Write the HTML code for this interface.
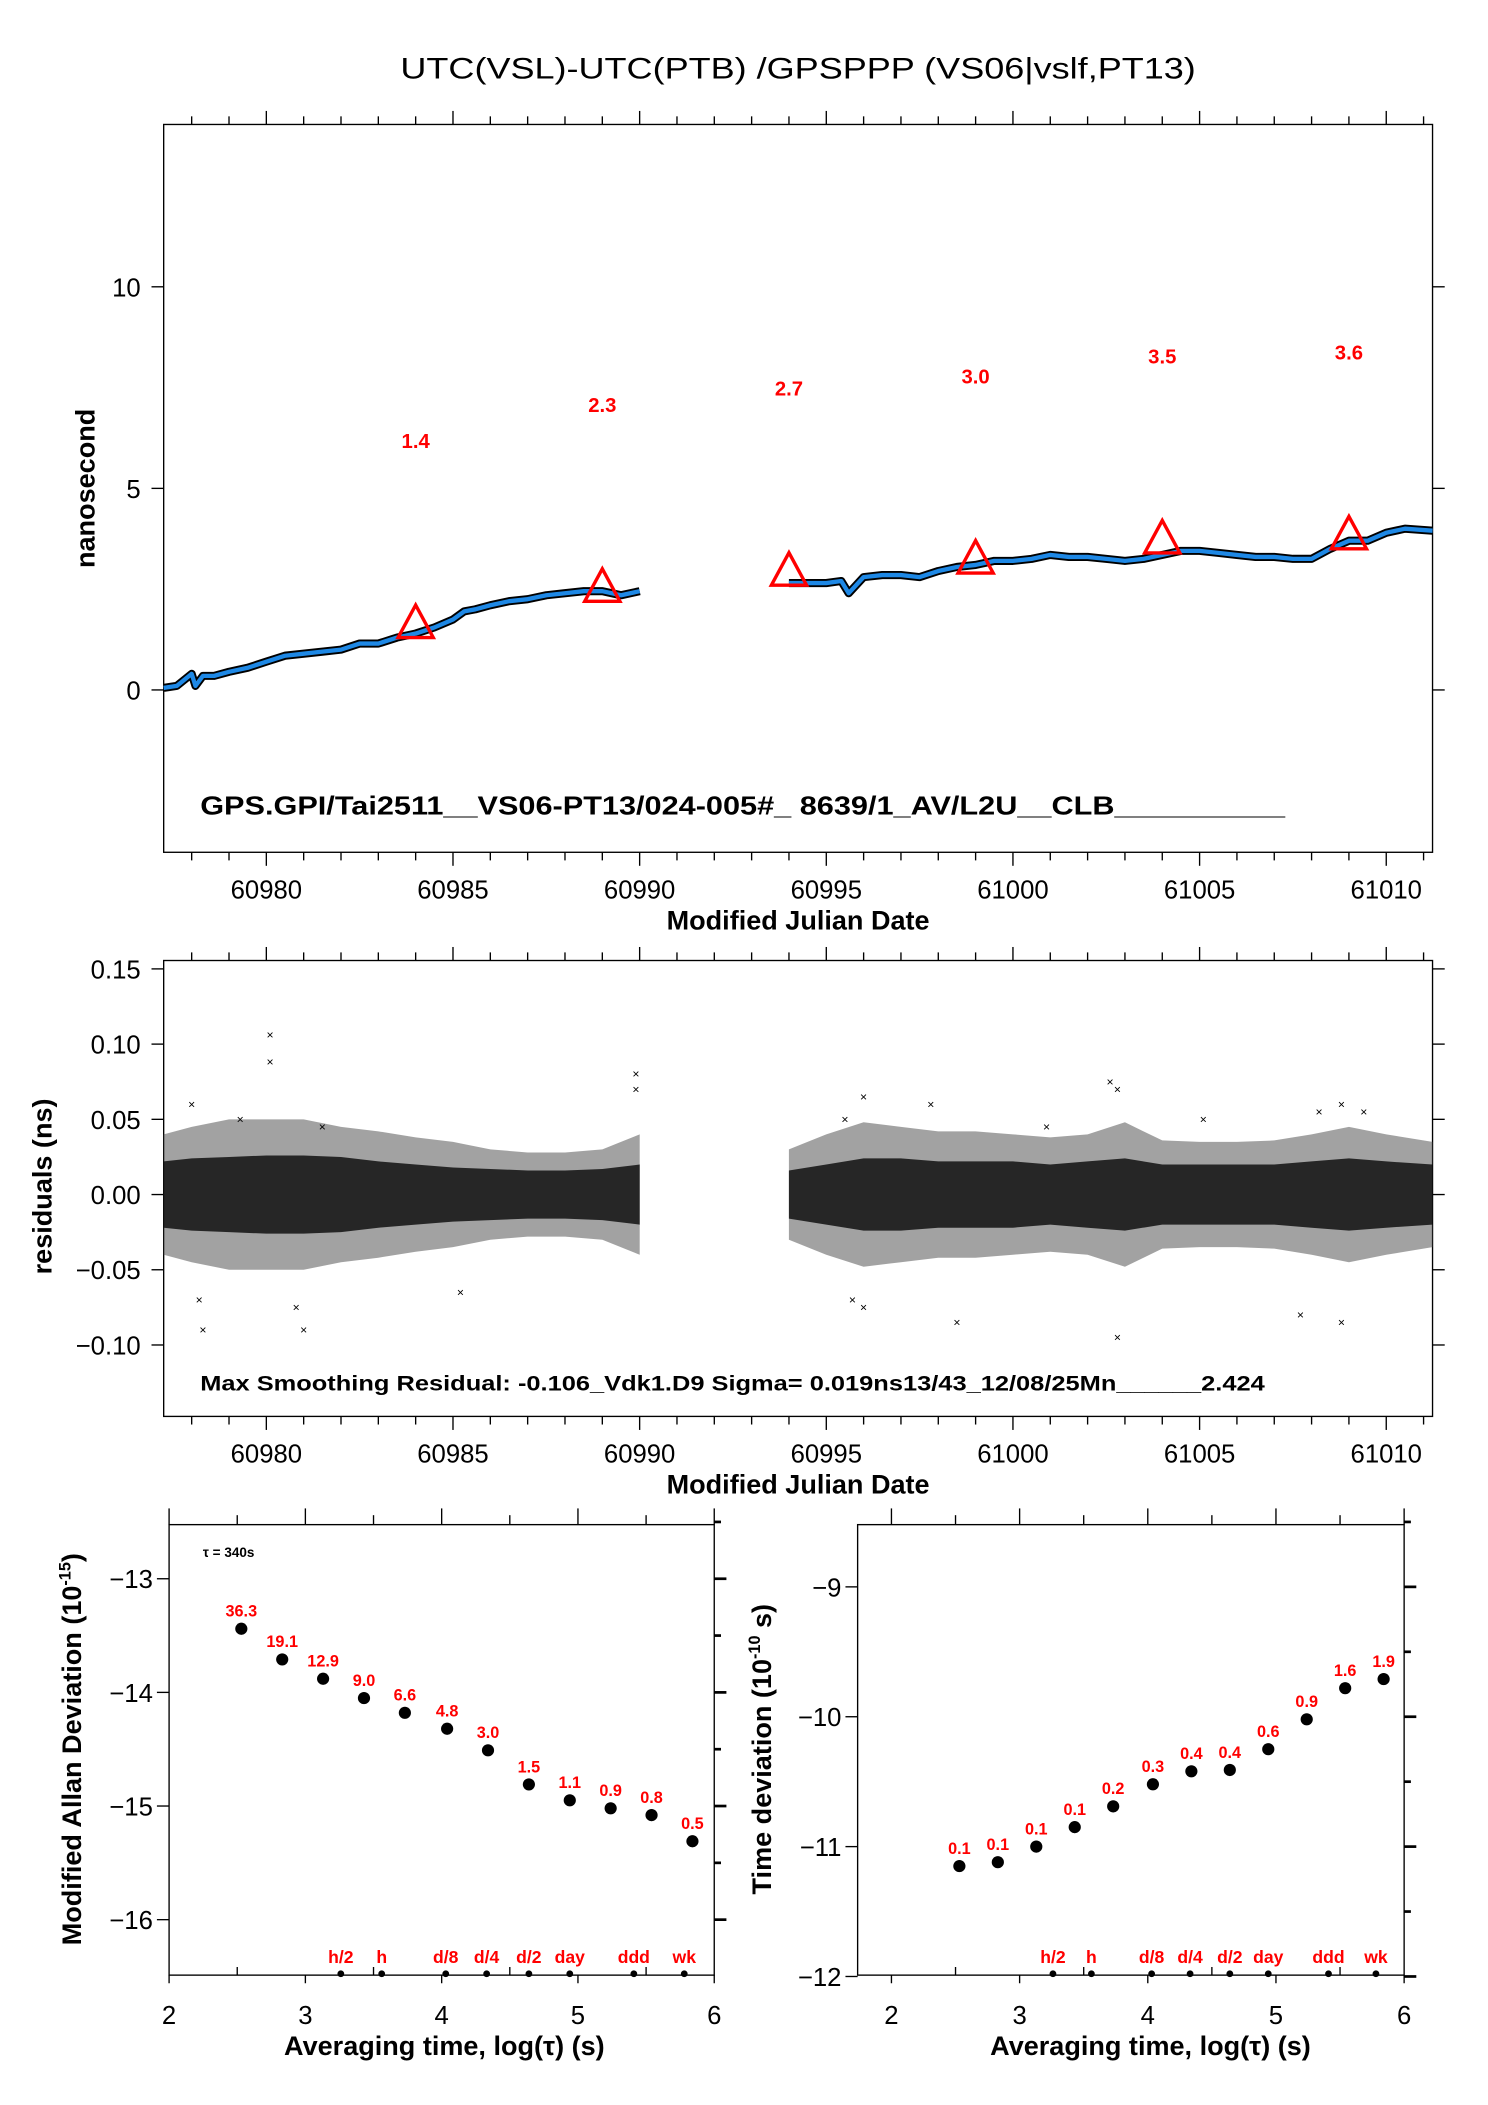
<!DOCTYPE html>
<html><head><meta charset="utf-8"><style>
html,body{margin:0;padding:0;background:#fff;}
svg{display:block;font-family:"Liberation Sans",sans-serif;}
</style></head><body>
<svg id="chart" xmlns="http://www.w3.org/2000/svg" width="1488" height="2105" viewBox="0 0 1100 1556" preserveAspectRatio="none">
<text x="590" y="58" font-size="22" text-anchor="middle" textLength="588" lengthAdjust="spacingAndGlyphs">UTC(VSL)-UTC(PTB)  /GPSPPP  (VS06|vslf,PT13)</text>
<g id="gTop"></g>
<g id="gRes"></g>
<g id="gL"></g>
<g id="gR"></g>
</svg>
<script>
// ---- top series data ----
const seg1Mjd = [60977.25,60977.6,60978,60978.1,60978.3,60978.6,60979,60979.5,60980,60980.5,60981,60981.5,60982,60982.5,60983,60983.5,60984,60984.5,60985,60985.3,60985.6,60986,60986.5,60987,60987.5,60988,60988.5,60989,60989.5,60990];
const seg1Val = [0.05,0.1,0.4,0.1,0.35,0.35,0.45,0.55,0.7,0.85,0.9,0.95,1.0,1.15,1.15,1.3,1.4,1.55,1.75,1.95,2.0,2.1,2.2,2.25,2.35,2.4,2.45,2.45,2.35,2.45];
const seg2Mjd = [60994,60995,60995.4,60995.6,60996,60996.5,60997,60997.5,60998,60998.5,60999,60999.5,61000,61000.5,61001,61001.5,61002,61002.5,61003,61003.5,61004,61004.5,61005,61005.5,61006,61006.5,61007,61007.5,61008,61008.5,61009,61009.5,61010,61010.5,61011.24];
const seg2Val = [2.65,2.65,2.7,2.4,2.8,2.85,2.85,2.8,2.95,3.05,3.1,3.2,3.2,3.25,3.35,3.3,3.3,3.25,3.2,3.25,3.35,3.45,3.45,3.4,3.35,3.3,3.3,3.25,3.25,3.5,3.7,3.7,3.9,4.0,3.95];
const triMjd = [60984,60989,60994,60999,61004,61009];
const triVal = [1.4,2.3,2.7,3.0,3.5,3.6];
const triLabels = ["1.4","2.3","2.7","3.0","3.5","3.6"];
const topYTicks = [0,5,10];
const mjdTicks = [60980,60985,60990,60995,61000,61005,61010];
// ---- residuals data ----
const resDays = [60977.25,60978,60979,60980,60981,60982,60983,60984,60985,60986,60987,60988,60989,60990];
const resCore = [0.022,0.024,0.025,0.026,0.026,0.025,0.022,0.02,0.018,0.017,0.016,0.016,0.017,0.02];
const resOuter = [0.04,0.045,0.05,0.05,0.05,0.045,0.042,0.038,0.035,0.03,0.028,0.028,0.03,0.04];
const resDays2 = [60994,60995,60996,60997,60998,60999,61000,61001,61002,61003,61004,61005,61006,61007,61008,61009,61010,61011.24];
const resCore2 = [0.016,0.02,0.024,0.024,0.022,0.022,0.022,0.02,0.022,0.024,0.02,0.02,0.02,0.02,0.022,0.024,0.022,0.02];
const resOuter2 = [0.03,0.04,0.048,0.045,0.042,0.042,0.04,0.038,0.04,0.048,0.036,0.035,0.035,0.036,0.04,0.045,0.04,0.035];
const outMjd = [60980.1,60980.1,60978.3,60981,60989.9,60989.9,60996,60995.7,60998.5,61002.6,61002.8,61002.8,61007.7,61008.8,61008.8,60996,60978,60979.3,60981.5,61000.9,61008.2,60995.5,60978.2,60980.8,60985.2,60997.8,61005.1,61009.4];
const outVal = [0.106,0.088,-0.09,-0.09,0.08,0.07,-0.075,-0.07,-0.085,0.075,0.07,-0.095,-0.08,-0.085,0.06,0.065,0.06,0.05,0.045,0.045,0.055,0.05,-0.07,-0.075,-0.065,0.06,0.05,0.055];
const resTicks = [-0.10,-0.05,0.00,0.05,0.10,0.15];
const resTickLabels = ["\u22120.10","\u22120.05","0.00","0.05","0.10","0.15"];
// ---- MDEV ----
const logTau = [2.53,2.83,3.13,3.43,3.73,4.04,4.34,4.64,4.94,5.24,5.54,5.84];
const mdevVal = [-13.44,-13.71,-13.88,-14.05,-14.18,-14.32,-14.51,-14.81,-14.95,-15.02,-15.08,-15.31];
const mdevLabels = ["36.3","19.1","12.9","9.0","6.6","4.8","3.0","1.5","1.1","0.9","0.8","0.5"];
const tdevVal = [-11.15,-11.12,-11.0,-10.85,-10.69,-10.52,-10.42,-10.41,-10.25,-10.02,-9.78,-9.71];
const tdevLabels = ["0.1","0.1","0.1","0.1","0.2","0.3","0.4","0.4","0.6","0.9","1.6","1.9"];
const markLog = [3.26,3.56,4.03,4.33,4.64,4.94,5.41,5.78];
const markLabels = ["h/2","h","d/8","d/4","d/2","day","ddd","wk"];
const mdevTicks = [-13,-14,-15,-16];
const tdevTicks = [-9,-10,-11,-12];
const logTicks = [2,3,4,5,6];

const NS="http://www.w3.org/2000/svg";
function mk(parent,tag,attrs,text){const e=document.createElementNS(NS,tag);for(const k in attrs)e.setAttribute(k,attrs[k]);if(text!==undefined)e.textContent=text;parent.appendChild(e);return e;}

// scales
const M0=60977.25,M1=61011.24;
const xT=m=>121+(m-M0)*(938/(M1-M0));
const yT=v=>510-v*29.8;
const yR=v=>883-v*1112;
const xL=t=>125+(t-2)*100.75;
const yL=v=>1167+(-13-v)*84;
const xR=t=>659+(t-2)*94.75;
const yRt=v=>1173+(-9-v)*96;

function timeAxes(g,top,bot){
  let f=mk(g,'rect',{x:121,y:top,width:938,height:bot-top,fill:'none',stroke:'#000','stroke-width':1});
  
  
  for(let d=60978;d<=61011;d++){
    const x=xT(d),maj=d%5===0;
    mk(g,'line',{x1:x,y1:top,x2:x,y2:top-(maj?10:6),stroke:'#000'});
    mk(g,'line',{x1:x,y1:bot,x2:x,y2:bot+(maj?10:6),stroke:'#000'});
  }
  mjdTicks.forEach(d=>{
    const t=mk(g,'text',{x:xT(d),y:bot+34,'font-size':19,'text-anchor':'middle'},String(d));
    
    
  });
  const xt=mk(g,'text',{x:590,y:bot+57,'font-size':20,'font-weight':'bold','text-anchor':'middle'},'Modified Julian Date');
  
  
}
function pathFrom(xs,ys,fx,fy){return xs.map((m,i)=>(i?'L':'M')+fx(m).toFixed(1)+' '+fy(ys[i]).toFixed(1)).join(' ');}

// ---- TOP ----
const gT=document.getElementById('gTop');
timeAxes(gT,92,630);
topYTicks.forEach(v=>{
  const y=yT(v);
  mk(gT,'line',{x1:112,y1:y,x2:121,y2:y,stroke:'#000'});
  mk(gT,'line',{x1:1059,y1:y,x2:1068,y2:y,stroke:'#000'});
  const t=mk(gT,'text',{x:104,y:y+7,'font-size':19,'text-anchor':'end'},String(v));
  
  
});
{const t=mk(gT,'text',{x:70,y:361,'font-size':20,'font-weight':'bold','text-anchor':'middle',transform:'rotate(-90 70 361)'},'nanosecond');

}
[[seg1Mjd,seg1Val],[seg2Mjd,seg2Val]].forEach(([xs,ys],i)=>{
  const d=pathFrom(xs,ys,xT,yT);
  const b=mk(gT,'path',{d:d,fill:'none',stroke:'#000','stroke-width':6,'stroke-linejoin':'round'});
  
  
  const l=mk(gT,'path',{d:d,fill:'none',stroke:'#1e88e5','stroke-width':3.2,'stroke-linejoin':'round'});
  
  
});
triMjd.forEach((m,i)=>{
  const x=xT(m),yb=yT(triVal[i])+3;
  const p=mk(gT,'polygon',{points:`${x-13},${yb} ${x+13},${yb} ${x},${yb-24}`,fill:'none',stroke:'#f00','stroke-width':2.5});
  
  
  const t=mk(gT,'text',{x:x,y:yT(triVal[i]+4.8)+6,'font-size':15,'font-weight':'bold',fill:'#f00','text-anchor':'middle'},triLabels[i]);
  
  
});
{const t=mk(gT,'text',{x:148,y:602,'font-size':19,'font-weight':'bold',textLength:802,lengthAdjust:'spacingAndGlyphs'},'GPS.GPI/Tai2511__VS06-PT13/024-005#_  8639/1_AV/L2U__CLB__________');

}

// ---- RESIDUALS ----
const gRs=document.getElementById('gRes');
timeAxes(gRs,710,1047);
resTicks.forEach((v,i)=>{
  const y=yR(v);
  mk(gRs,'line',{x1:112,y1:y,x2:121,y2:y,stroke:'#000'});
  mk(gRs,'line',{x1:1059,y1:y,x2:1068,y2:y,stroke:'#000'});
  const t=mk(gRs,'text',{x:104,y:y+7,'font-size':19,'text-anchor':'end'},resTickLabels[i]);
  
  
});
{const t=mk(gRs,'text',{x:38,y:877,'font-size':20,'font-weight':'bold','text-anchor':'middle',transform:'rotate(-90 38 877)'},'residuals (ns)');

}
function band(xs,w,fill,op,name){
  const up=xs.map((m,i)=>xT(m).toFixed(1)+','+yR(w[i]).toFixed(1));
  const dn=xs.map((m,i)=>xT(m).toFixed(1)+','+yR(-w[i]).toFixed(1)).reverse();
  const p=mk(gRs,'polygon',{points:up.concat(dn).join(' '),fill:fill,'fill-opacity':op});
  
  
}
band(resDays,resOuter,'#555',0.55,'residual-spread-1');
band(resDays2,resOuter2,'#555',0.55,'residual-spread-2');
band(resDays,resCore,'#111',0.85,'residual-core-1');
band(resDays2,resCore2,'#111',0.85,'residual-core-2');
outMjd.forEach((m,i)=>{
  const t=mk(gRs,'text',{x:xT(m),y:yR(outVal[i])+3,'font-size':9,'text-anchor':'middle'},'\u00d7');
  
  
});
{const t=mk(gRs,'text',{x:148,y:1028,'font-size':16,'font-weight':'bold',textLength:787,lengthAdjust:'spacingAndGlyphs'},'Max Smoothing Residual: -0.106_Vdk1.D9  Sigma= 0.019ns13/43_12/08/25Mn______2.424');

}

// ---- stability panels ----
function stabPanel(g,fx,fy,left,right,yTicks,vals,labels,title,titleX,name){
  const top=1127,bot=1460;
  const f=mk(g,'rect',{x:left,y:top,width:right-left,height:bot-top,fill:'none',stroke:'#000'});
  
  
  for(let t=2;t<=6;t+=0.5){
    const x=fx(t),maj=Number.isInteger(t);
    mk(g,'line',{x1:x,y1:top,x2:x,y2:top-(maj?12:7),stroke:'#000'});
    mk(g,'line',{x1:x,y1:bot,x2:x,y2:maj?bot+6:bot-6,stroke:'#000'});
  }
  logTicks.forEach(t=>{
    const e=mk(g,'text',{x:fx(t),y:bot+36,'font-size':19,'text-anchor':'middle'},String(t));
    
    
  });
  const xt=mk(g,'text',{x:(fx(2)+fx(6))/2+2,y:bot+59,'font-size':20,'font-weight':'bold','text-anchor':'middle'},'Averaging time, log(\u03c4) (s)');
  
  
  yTicks.forEach(v=>{
    const y=fy(v);
    mk(g,'line',{x1:left-9,y1:y,x2:left,y2:y,stroke:'#000'});
    mk(g,'line',{x1:right,y1:y,x2:right+9,y2:y,stroke:'#000','stroke-width':2});
    mk(g,'line',{x1:right,y1:fy(v+0.5),x2:right+5,y2:fy(v+0.5),stroke:'#000','stroke-width':2});
    const e=mk(g,'text',{x:left-12,y:y+7,'font-size':19,'text-anchor':'end'},'\u2212'+String(-v));
    
    
  });
  logTau.forEach((t,i)=>{
    const c=mk(g,'circle',{cx:fx(t),cy:fy(vals[i]),r:4.5,fill:'#000'});
    
    
    const e=mk(g,'text',{x:fx(t),y:fy(vals[i])-9,'font-size':12,'font-weight':'bold',fill:'#f00','text-anchor':'middle'},labels[i]);
    
    
  });
  markLog.forEach((t,i)=>{
    const c=mk(g,'circle',{cx:fx(t),cy:bot-1,r:2.5,fill:'#000'});
    
    
    const e=mk(g,'text',{x:fx(t),y:bot-9,'font-size':13,'font-weight':'bold',fill:'#f00','text-anchor':'middle'},markLabels[i]);
    
    
  });
  const yt=mk(g,'text',{x:titleX,y:1293,'font-size':20,'font-weight':'bold','text-anchor':'middle',transform:`rotate(-90 ${titleX} 1293)`});
  yt.innerHTML=title;
  
  
}
const gl=document.getElementById('gL');
stabPanel(gl,xL,yL,125,528,mdevTicks,mdevVal,mdevLabels,'Modified Allan Deviation (10<tspan font-size="12" dy="-8">-15</tspan><tspan dy="8">)</tspan>',60,'mdev');
{const t=mk(gl,'text',{x:150,y:1151,'font-size':10,'font-weight':'bold'},'\u03c4 = 340s');

}
const gr=document.getElementById('gR');
stabPanel(gr,xR,yRt,634,1038,tdevTicks,tdevVal,tdevLabels,'Time deviation (10<tspan font-size="12" dy="-8">-10</tspan><tspan dy="8"> s)</tspan>',570,'tdev');
</script>
</body></html>
